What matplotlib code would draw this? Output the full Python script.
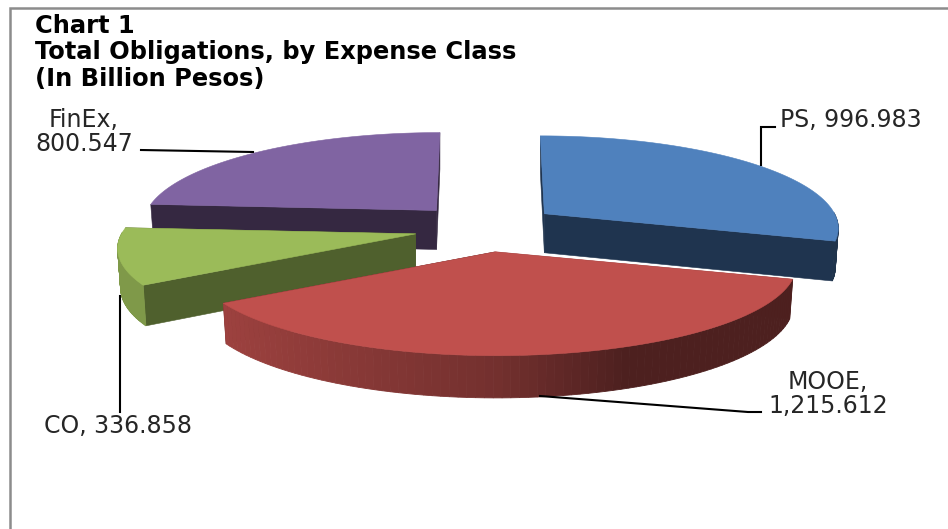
import numpy as np
import matplotlib
matplotlib.use("Agg")
import matplotlib.pyplot as plt
from matplotlib.patches import Polygon

# expense classes, clockwise from twelve o'clock
classes = ["PS", "MOOE", "CO", "FinEx"]
obligations = [996.983, 1215.612, 336.858, 800.547]
value_labels = ["996.983", "1,215.612", "336.858", "800.547"]
top_colors = ["#4F81BD", "#C0504D", "#9BBB59", "#8064A2"]
cut_colors = ["#1F344F", "#4E1F1D", "#4F602D", "#352841"]

title = "Chart 1\nTotal Obligations, by Expense Class\n(In Billion Pesos)"

# projection of the tilted pie, in pixels
CX, CY = 486.0, 228.0
RX, RY = 293.0, 89.0
PERSP = 0.143
DEPTH = 39.0
EXPLODE_X, EXPLODE_Y = 72.5, 24.0
DEPTH_SCALE = 0.016

# wedges are painted back to front
paint_order = [3, 0, 2, 1]


def project(theta, apex, size):
    s = 1.0 / (1.0 + PERSP * np.cos(theta))
    x = apex[0] + RX * size * np.sin(theta) * s + (apex[0] - CX) * (s - 1.0) * 0.55
    y = apex[1] - RY * np.cos(theta) * s
    return x, y


def drop(x, y, theta, apex):
    # same rim point on the underside of the slab
    s = 1.0 / (1.0 + PERSP * np.cos(theta))
    return apex[0] + (x - apex[0]) * 0.99, y + DEPTH * (1.0 + 0.5 * (s - 1.0))


def rim_shade(theta):
    # outer wall darkens from left to right
    return np.interp(np.sin(theta), [-0.85, 0.0, 0.38, 1.0], [0.82, 0.6, 0.4, 0.4])


def shaded(color, f):
    return tuple(c * f for c in matplotlib.colors.to_rgb(color))


def draw_wedge(ax, start, end, top, cut, z, light_edge=False):
    mid = (start + end) / 2
    apex = (CX + EXPLODE_X * np.sin(mid), CY - EXPLODE_Y * np.cos(mid))
    size = 1.0 - DEPTH_SCALE * np.cos(mid)
    thetas = np.linspace(start, end, 90)
    x, y = project(thetas, apex, size)
    bx, by = drop(x, y, thetas, apex)
    apex_low = (apex[0], apex[1] + DEPTH)

    # the two cut faces go first, the back-facing one ends up hidden
    for j in (0, -1):
        pts = [apex, (x[j], y[j]), (bx[j], by[j]), apex_low]
        ax.add_patch(Polygon(pts, closed=True, fc=cut, ec=cut, lw=0.4, zorder=z))

    # outer wall as short strips so the shading can vary along it
    for i in range(len(thetas) - 1):
        mid_t = (thetas[i] + thetas[i + 1]) / 2
        if np.cos(mid_t) > 0.02:
            continue  # far side of the slab is never seen
        col = shaded(top, rim_shade(mid_t))
        pts = [(x[i], y[i]), (x[i + 1], y[i + 1]), (bx[i + 1], by[i + 1]), (bx[i], by[i])]
        ax.add_patch(Polygon(pts, closed=True, fc=col, ec=col, lw=0.6, zorder=z + 0.1))

    if light_edge:
        ax.plot([apex[0], x[0]], [apex[1] - 0.8, y[0] - 0.8], color="white", lw=0.9, zorder=z + 0.15)

    # top surface
    outline = [apex] + list(zip(x, y))
    ax.add_patch(Polygon(outline, closed=True, fc=top, ec=top, lw=0.4, zorder=z + 0.2))


fig = plt.figure(figsize=(9.48, 5.29), dpi=100)
ax = fig.add_axes([0, 0, 1, 1])
ax.set_xlim(0, 948)
ax.set_ylim(529, 0)
ax.axis("off")

# chart area border, only top and left fall inside the frame
ax.plot([10, 10, 948], [529, 8, 8], color="#8C8C8C", lw=1.8, solid_joinstyle="miter", zorder=1)

fractions = np.array(obligations) / sum(obligations)
edges = np.concatenate([[0.0], np.cumsum(fractions) * 2 * np.pi])
for n, i in enumerate(paint_order):
    draw_wedge(ax, edges[i], edges[i + 1], top_colors[i], cut_colors[i], 2 + n, light_edge=classes[i] == "MOOE")

ax.text(35, 14, title, fontsize=17.4, fontweight="bold", color="black",
        va="top", ha="left", linespacing=1.13, zorder=10)

# leader lines
leaders = [
    ([775, 761, 761], [127, 127, 165]),
    ([540, 748, 761], [396, 412, 412]),
    ([120, 120], [296, 412]),
    ([141, 253], [150, 152]),
]
for lx, ly in leaders:
    ax.plot(lx, ly, color="black", lw=1.5, solid_joinstyle="miter", zorder=9)

label_style = dict(fontsize=17, color="#262626", zorder=10)
ax.text(780, 120, f"{classes[0]}, {value_labels[0]}", ha="left", va="center", **label_style)
ax.text(828, 394, f"{classes[1]},\n{value_labels[1]}", ha="center", va="center", linespacing=0.98, **label_style)
ax.text(118, 426, f"{classes[2]}, {value_labels[2]}", ha="center", va="center", **label_style)
ax.text(84, 132, f"{classes[3]},\n{value_labels[3]}", ha="center", va="center", linespacing=0.98, **label_style)

fig.savefig("out.png", dpi=100)
plt.close(fig)
